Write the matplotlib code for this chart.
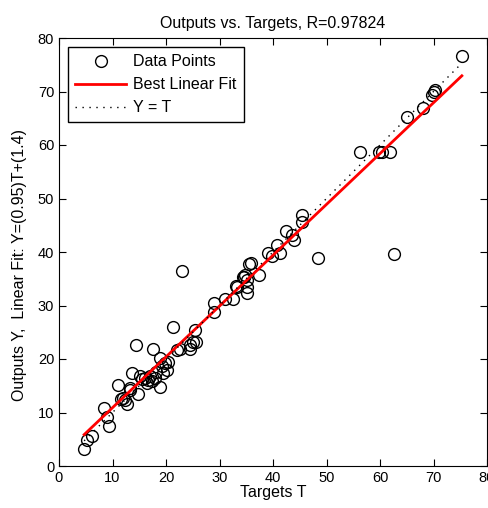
import numpy as np
import matplotlib.pyplot as plt

targets = [4.7, 5.2, 6.1, 8.5, 9.0, 9.4, 11.0, 11.6, 11.9, 12.3, 12.8, 13.3,
           13.3, 13.6, 14.3, 14.8, 15.1, 15.5, 16.1, 16.4, 16.7, 17.0, 17.3,
           17.5, 17.9, 18.2, 18.9, 18.9, 19.2, 19.5, 19.8, 20.1, 20.4, 21.4,
           22.0, 22.7, 22.9, 24.5, 24.5, 25.1, 25.5, 25.7, 29.0, 29.0, 31.0,
           32.6, 33.0, 33.2, 34.3, 34.5, 34.8, 35.1, 35.2, 35.1, 35.5, 35.9,
           37.3, 39.1, 39.8, 40.7, 41.3, 42.4, 43.5, 43.9, 45.4, 45.4, 48.4,
           56.3, 59.9, 60.3, 61.9, 62.7, 65.1, 68.0, 69.8, 70.0, 70.3, 75.3]
outputs = [3.2, 4.9, 5.6, 10.9, 9.2, 7.5, 15.1, 12.5, 12.8, 12.3, 11.6, 14.6,
           14.2, 17.3, 22.6, 13.4, 16.8, 16.2, 16.4, 15.6, 16.1, 16.9, 15.8,
           21.9, 16.4, 17.5, 14.8, 20.2, 18.6, 17.3, 19.3, 17.9, 19.5, 25.9,
           21.7, 21.9, 36.4, 21.9, 22.6, 23.2, 25.4, 23.2, 30.4, 28.7, 31.2,
           31.3, 33.6, 33.5, 35.4, 35.4, 35.7, 34.8, 33.5, 32.3, 37.7, 37.9,
           35.7, 39.8, 39.3, 41.3, 39.8, 44.0, 43.2, 42.2, 46.9, 45.7, 38.8,
           58.7, 58.7, 58.7, 58.7, 39.6, 65.2, 67.0, 69.3, 70.0, 70.3, 76.7]
slope = 0.95
intercept = 1.4
r_value = 0.97824


def main():
    plt.rcParams['font.family'] = ['Liberation Sans', 'DejaVu Sans']
    fig = plt.figure(figsize=(4.89, 5.08), dpi=100)
    ax = fig.add_axes([59 / 489, 42 / 508, 428 / 489, 428 / 508])

    t = np.array(targets)
    y = np.array(outputs)
    tt = np.array([t.min(), t.max()])

    ax.plot(t, y, 'o', mfc='none', mec='black', ms=8.5, mew=1.0,
            label='Data Points')
    ax.plot(tt, slope * tt + intercept, color='red', lw=2,
            label='Best Linear Fit')
    ax.plot(tt, tt, color='black', ls=(0, (1, 4)), lw=1, label='Y = T')

    ax.set_xlim(0, 80)
    ax.set_ylim(0, 80)
    ax.set_xticks(np.arange(0, 81, 10))
    ax.set_yticks(np.arange(0, 81, 10))
    ax.tick_params(direction='in', top=True, right=True, length=5,
                   labelsize=10.5)
    ax.set_title('Outputs vs. Targets, R={}'.format(r_value), fontsize=11.5,
                 pad=7)
    ax.set_xlabel('Targets T', fontsize=11.5, labelpad=0)
    ax.set_ylabel('Outputs Y,  Linear Fit: Y=({})T+({})'.format(slope, intercept),
                  fontsize=11.5)
    ax.yaxis.set_label_coords(-0.075, 0.47)

    leg = ax.legend(loc='upper left', bbox_to_anchor=(0.021, 0.979),
                    borderaxespad=0, fancybox=False, edgecolor='black',
                    framealpha=1, handlelength=3.2, handletextpad=0.45,
                    fontsize=11.5, borderpad=0.45, labelspacing=0.5)
    leg.get_frame().set_linewidth(1.0)

    fig.savefig('out.png', dpi=100)


if __name__ == '__main__':
    main()
